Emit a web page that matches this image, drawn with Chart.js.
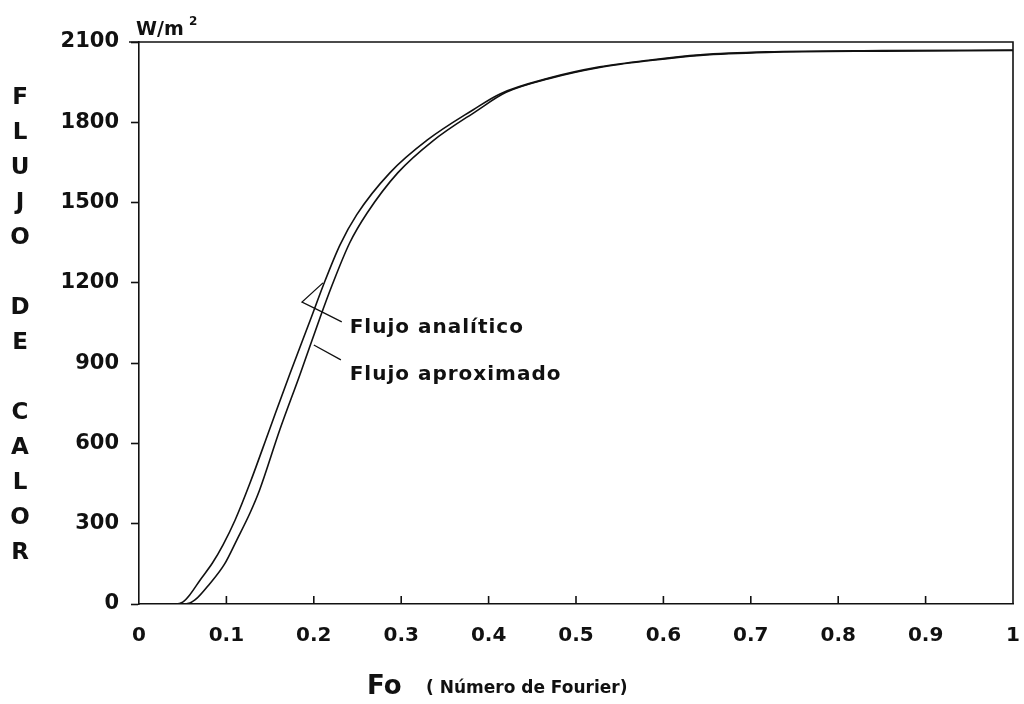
<!DOCTYPE html>
<html>
<head>
<meta charset="utf-8">
<script src="https://cdn.jsdelivr.net/npm/chart.js@4/dist/chart.umd.min.js"></script>
<style>
  html, body { margin: 0; padding: 0; background: #fff; }
  canvas { display: block; }
</style>
</head>
<body>
<canvas id="fluxChart" width="1024" height="704"></canvas>
<script>
// Fo (Fourier number) and heat flux (W/m2)
const foAnalitico = [0.03, 0.042, 0.050, 0.058, 0.070, 0.084, 0.096, 0.110, 0.127, 0.150, 0.173, 0.196, 0.211, 0.230, 0.249, 0.287, 0.330, 0.382, 0.413, 0.470, 0.527, 0.585, 0.642, 0.718, 0.85, 1.0];
const flujoAnalitico = [0, 0, 7, 34, 90, 153, 220, 314, 452, 658, 863, 1061, 1192, 1342, 1454, 1611, 1734, 1846, 1906, 1966, 2007, 2033, 2052, 2063, 2068, 2070];

const foAproximado = [0.03, 0.053, 0.064, 0.081, 0.098, 0.112, 0.127, 0.138, 0.161, 0.184, 0.207, 0.221, 0.241, 0.261, 0.296, 0.336, 0.386, 0.420, 0.470, 0.527, 0.585, 0.642, 0.718, 0.85, 1.0];
const flujoAproximado = [0, 0, 15, 76, 150, 240, 340, 426, 650, 856, 1069, 1192, 1349, 1461, 1611, 1730, 1842, 1912, 1964, 2005, 2031, 2050, 2061, 2066, 2068];

const xTicks = [0, 0.1, 0.2, 0.3, 0.4, 0.5, 0.6, 0.7, 0.8, 0.9, 1];
const xTickLabels = ['0', '0.1', '0.2', '0.3', '0.4', '0.5', '0.6', '0.7', '0.8', '0.9', '1'];
const yTicks = [0, 300, 600, 900, 1200, 1500, 1800, 2100];

const yTitle = 'FLUJO DE CALOR';
const labelAnalitico = 'Flujo analítico';
const labelAproximado = 'Flujo aproximado';

const FONT = '"DejaVu Sans", sans-serif';
const INK = '#111';

function toPoints(xs, ys) {
    return xs.map((x, i) => ({ x: x, y: ys[i] }));
}

// extra drawing: frame, inner x ticks, titles and the callouts
const decorations = {
    id: 'decorations',
    afterDraw(chart) {
        const ctx = chart.ctx;
        const area = chart.chartArea;
        const xs = chart.scales.x;
        const ys = chart.scales.y;
        ctx.save();
        ctx.strokeStyle = INK;
        ctx.fillStyle = INK;
        ctx.lineWidth = 1.6;

        // top and right frame lines
        ctx.beginPath();
        ctx.moveTo(area.left - 10, area.top);
        ctx.lineTo(area.right, area.top);
        ctx.lineTo(area.right, area.bottom);
        ctx.stroke();

        // x ticks point into the plot
        xTicks.forEach(v => {
            if (v === 0 || v === 1) return;
            const px = xs.getPixelForValue(v);
            ctx.beginPath();
            ctx.moveTo(px, area.bottom);
            ctx.lineTo(px, area.bottom - 8);
            ctx.stroke();
        });

        // vertical stacked y title
        ctx.font = 'bold 23px ' + FONT;
        ctx.textAlign = 'center';
        ctx.textBaseline = 'middle';
        yTitle.split('').forEach((ch, i) => {
            ctx.fillText(ch, 20, 98 + i * 35);
        });

        // unit above the axis
        ctx.textAlign = 'left';
        ctx.textBaseline = 'alphabetic';
        ctx.font = 'bold 19px ' + FONT;
        ctx.fillText('W/m', area.left - 3, area.top - 7);
        ctx.font = 'bold 12px ' + FONT;
        ctx.fillText('2', area.left + 50, area.top - 17);

        // x title
        ctx.textBaseline = 'middle';
        ctx.font = 'bold 26px ' + FONT;
        ctx.fillText('Fo', 367, 687);
        ctx.font = 'bold 17px ' + FONT;
        ctx.fillText('( Número de Fourier)', 426, 689);

        // callouts
        const p = (x, y) => [xs.getPixelForValue(x), ys.getPixelForValue(y)];
        ctx.lineWidth = 1.3;
        ctx.beginPath();
        let a = p(0.2105, 1200), b = p(0.1865, 1128), c = p(0.207, 1095), d = p(0.232, 1054);
        ctx.moveTo(a[0], a[1]);
        ctx.lineTo(b[0], b[1]);
        ctx.lineTo(c[0], c[1]);
        ctx.lineTo(d[0], d[1]);
        let e = p(0.200, 968), f = p(0.231, 912);
        ctx.moveTo(e[0], e[1]);
        ctx.lineTo(f[0], f[1]);
        ctx.stroke();

        ctx.font = 'bold 20px ' + FONT;
        ctx.letterSpacing = '1px';
        let t1 = p(0.241, 1031), t2 = p(0.241, 856);
        ctx.fillText(labelAnalitico, t1[0], t1[1]);
        ctx.fillText(labelAproximado, t2[0], t2[1]);
        ctx.restore();
    }
};

const ctx = document.getElementById('fluxChart').getContext('2d');
new Chart(ctx, {
    type: 'line',
    data: {
        datasets: [
            {
                label: labelAnalitico,
                data: toPoints(foAnalitico, flujoAnalitico),
                borderColor: INK,
                borderWidth: 1.6,
                pointRadius: 0,
                fill: false,
                cubicInterpolationMode: 'monotone'
            },
            {
                label: labelAproximado,
                data: toPoints(foAproximado, flujoAproximado),
                borderColor: INK,
                borderWidth: 1.6,
                pointRadius: 0,
                fill: false,
                cubicInterpolationMode: 'monotone'
            }
        ]
    },
    options: {
        responsive: false,
        animation: false,
        layout: { padding: { left: 0, top: 42, right: 11, bottom: 0 } },
        plugins: {
            legend: { display: false },
            tooltip: { enabled: false }
        },
        scales: {
            x: {
                type: 'linear',
                min: 0,
                max: 1,
                afterBuildTicks: s => { s.ticks = xTicks.map(v => ({ value: v })); },
                afterFit: s => { s.height = 100; s.paddingLeft = 0; s.paddingRight = 0; },
                grid: { drawOnChartArea: false, drawTicks: false },
                border: { display: true, color: INK, width: 1.6 },
                ticks: {
                    color: INK,
                    padding: 20,
                    maxRotation: 0,
                    font: { family: FONT, size: 20, weight: 'bold' },
                    callback: (v, i) => xTickLabels[i]
                }
            },
            y: {
                min: 0,
                max: 2100,
                afterBuildTicks: s => { s.ticks = yTicks.map(v => ({ value: v })); },
                afterFit: s => { s.width = 139; s.paddingTop = 0; s.paddingBottom = 0; },
                grid: { drawOnChartArea: false, drawTicks: true, tickLength: 8, color: INK, tickWidth: 1.6 },
                border: { display: true, color: INK, width: 1.6 },
                ticks: {
                    color: INK,
                    padding: 12,
                    font: { family: FONT, size: 21, weight: 'bold' },
                    callback: v => String(v)
                }
            }
        }
    },
    plugins: [decorations]
});
</script>
</body>
</html>
